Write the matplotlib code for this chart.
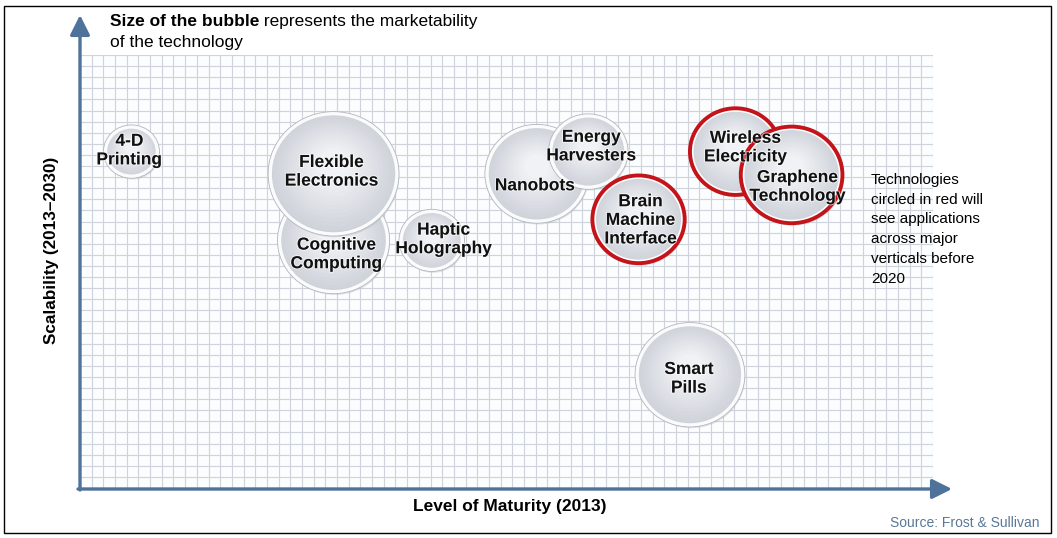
import matplotlib
matplotlib.use("Agg")
import matplotlib.pyplot as plt
from matplotlib.patches import Ellipse, Rectangle
import matplotlib.patheffects as pe
import numpy as np

# ---------------- data ----------------
technologies = ["4-D\nPrinting", "Cognitive\nComputing", "Flexible\nElectronics",
                "Haptic\nHolography", "Nanobots", "Energy\nHarvesters",
                "Brain\nMachine\nInterface", "Wireless\nElectricity",
                "Graphene\nTechnology", "Smart\nPills"]
maturity = [4.4, 21.7, 21.7, 30.1, 39.1, 43.5, 47.8, 56.1, 60.9, 52.2]      # x (grid units)
scalability = [30.3, 22.3, 28.3, 22.3, 28.3, 30.3, 24.2, 30.3, 28.2, 10.2]  # y (grid units)
marketability = [2.3, 4.7, 5.5, 2.7, 4.35, 3.3, 3.95, 3.9, 4.35, 4.6]      # bubble radius
circled_red = [False, False, False, False, False, False, True, True, True, False]

# label nudges (pixels: right, up)
label_dx = [-2, 3, -2, 12, -2, 3, 2, 10, 6, -1]
label_dy = [1, -14, 2, 1, -12, 5, -1, 4, -12, -4]

W, H = 1057, 538
fig = plt.figure(figsize=(W / 100, H / 100), dpi=100)
fig.patch.set_facecolor("white")

x0, x1, ytop, ybot = 80, 933, 55, 488
ncols, nrows = 73, 39
ax = fig.add_axes([x0 / W, (H - ybot) / H, (x1 - x0) / W, (ybot - ytop) / H])
ax.set_xlim(0, ncols)
ax.set_ylim(0, nrows)
ax.set_facecolor("#fcfdfe")
ax.set_xticks(np.arange(0, ncols + 1, 1))
ax.set_yticks(np.arange(0, nrows + 1, 1))
ax.grid(True, color="#cfd4dc", lw=0.85)
ax.tick_params(length=0, labelbottom=False, labelleft=False)
for s in ax.spines.values():
    s.set_visible(False)
ax.set_axisbelow(True)

edge_col = np.array([0xcd, 0xd1, 0xd9]) / 255
center_col = np.array([0xf1, 0xf2, 0xf5]) / 255

z = 3
for i in range(len(technologies)):
    x, y, r = maturity[i], scalability[i], marketability[i]
    # shadow
    ax.add_patch(Ellipse((x + 0.12, y - 0.22), 2 * r, 2 * r, color="#a9aeb6",
                         alpha=0.3, lw=0, zorder=z))
    N = 14
    for k in range(N):
        t = k / (N - 1)
        s = 1 - 0.75 * t
        c = edge_col * (1 - t) + center_col * t
        ax.add_patch(Ellipse((x, y + 0.15 * r * t), 2 * r * s, 2 * r * s,
                             facecolor=c, lw=0, zorder=z + 0.01 * (k + 1)))
    if circled_red[i]:
        ax.add_patch(Ellipse((x, y), 2 * r - 0.4, 2 * r - 0.4, fill=False,
                             edgecolor="white", lw=1.8, zorder=z + 0.5))
        ax.add_patch(Ellipse((x, y), 2 * r, 2 * r, fill=False,
                             edgecolor="#c4141b", lw=2.8, zorder=z + 0.6))
    else:
        ax.add_patch(Ellipse((x, y), 2 * r - 0.12, 2 * r - 0.12, fill=False,
                             edgecolor="#fbfbfc", lw=2.8, zorder=z + 0.5))
        ax.add_patch(Ellipse((x, y), 2 * r + 0.2, 2 * r + 0.2, fill=False,
                             edgecolor="#b0b5bd", lw=0.6, zorder=z + 0.6))
    z += 1

for i, lab in enumerate(technologies):
    ax.annotate(lab, xy=(maturity[i], scalability[i]),
                xytext=(label_dx[i], label_dy[i]), textcoords="offset pixels",
                ha="center", va="center", fontsize=12.5, fontweight="bold",
                family="Liberation Sans", color="#111111", linespacing=1.3,
                zorder=50,
                path_effects=[pe.withStroke(linewidth=1.5, foreground="white", alpha=0.6)])

# ---------------- overlay (pixel coordinates) ----------------
ov = fig.add_axes([0, 0, 1, 1], zorder=10)
ov.set_xlim(0, W)
ov.set_ylim(H, 0)
ov.axis("off")

ov.add_patch(Rectangle((4, 6), 1047, 527, fill=False, edgecolor="black", lw=1.0))

axis_col = "#4e7299"
ov.annotate("", xy=(80, 15), xytext=(80, 490),
            arrowprops=dict(arrowstyle="-|>,head_length=0.8,head_width=0.4",
                            lw=2.4, color=axis_col, shrinkA=0, shrinkB=0,
                            mutation_scale=15))
ov.annotate("", xy=(952, 489), xytext=(78, 489),
            arrowprops=dict(arrowstyle="-|>,head_length=0.8,head_width=0.4",
                            lw=2.4, color=axis_col, shrinkA=0, shrinkB=0,
                            mutation_scale=15))

t1 = ov.text(110, 29, "Size of the bubble", fontsize=12.5, fontweight="bold",
             family="Liberation Sans", ha="left", va="bottom")
ov.annotate(" represents the marketability", xy=(1, 0), xycoords=t1,
            fontsize=12.5, family="Liberation Sans", ha="left", va="bottom")
ov.text(110, 42, "of the technology", fontsize=12.5, family="Liberation Sans",
        ha="left", va="center")

ov.text(871, 173, "Technologies\ncircled in red will\nsee applications\nacross major\nverticals before\n2020",
        fontsize=11, family="Liberation Sans", ha="left", va="top", linespacing=1.52)

ov.text(510, 506, "Level of Maturity (2013)", fontsize=12.5, fontweight="bold",
        family="Liberation Sans", ha="center", va="center")
ov.text(52, 250, "Scalability (2013\u20132030)", fontsize=12.3, fontweight="bold",
        family="Liberation Sans", ha="center", va="center", rotation=90)
ov.text(1040, 523, "Source: Frost & Sullivan", fontsize=10, color="#5a7896",
        family="Liberation Sans", ha="right", va="center")

fig.savefig("out.png", dpi=100)
